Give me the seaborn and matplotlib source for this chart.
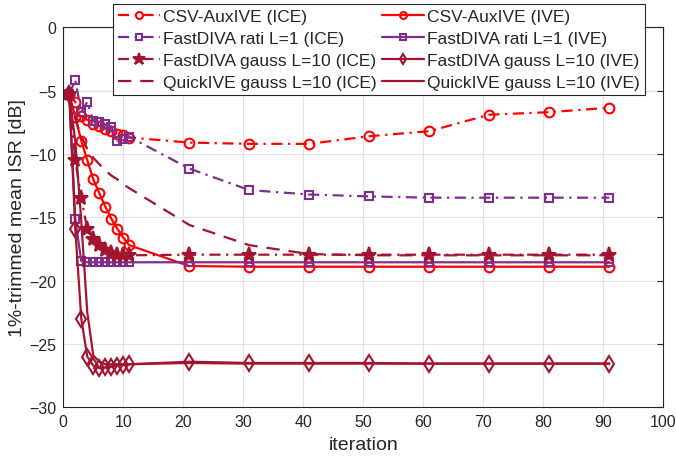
import numpy as np
import seaborn as sns
import matplotlib.pyplot as plt

sns.set_style('white')
plt.rcParams['font.family'] = ['Liberation Sans', 'DejaVu Sans']

# iterations at which the values were recorded
it = [1, 2, 3, 4, 5, 6, 7, 8, 9, 10, 11, 21, 31, 41, 51, 61, 71, 81, 91]

csv_ice = [-5.3, -5.9, -7.0, -7.3, -7.6, -7.8, -8.0, -8.2, -8.4, -8.5, -8.7,
           -9.1, -9.2, -9.2, -8.6, -8.2, -6.9, -6.7, -6.35]
csv_ive = [-5.3, -7.1, -8.95, -10.5, -12.0, -13.1, -14.15, -15.1, -15.9, -16.6, -17.2,
           -18.85, -18.9, -18.9, -18.9, -18.9, -18.9, -18.9, -18.9]
rati_ice = [-5.3, -4.15, -6.7, -5.9, -7.4, -7.5, -7.6, -7.85, -8.95, -8.8, -8.65,
            -11.15, -12.85, -13.2, -13.35, -13.45, -13.45, -13.45, -13.45]
rati_ive = [-5.3, -15.15, -18.45, -18.55, -18.55, -18.55, -18.55, -18.55, -18.55, -18.55, -18.55,
            -18.55, -18.55, -18.55, -18.55, -18.55, -18.55, -18.55, -18.55]
gauss_ice = [-5.3, -10.5, -13.5, -15.9, -16.7, -17.2, -17.6, -17.8, -17.95, -18.0, -18.0,
             -17.95, -17.95, -17.95, -17.95, -17.95, -17.95, -17.95, -17.95]
gauss_ive = [-5.3, -15.9, -23.0, -26.0, -26.7, -26.9, -26.85, -26.8, -26.7, -26.65, -26.6,
             -26.4, -26.5, -26.5, -26.5, -26.55, -26.55, -26.55, -26.55]
quick_ice = [-5.3, -7.2, -8.6, -9.6, -10.3, -10.8, -11.3, -11.7, -12.0, -12.4, -12.7,
             -15.6, -17.2, -17.9, -18.0, -18.0, -18.0, -18.0, -18.0]
quick_ive = [-5.3, -9.0, -15.3, -22.5, -25.9, -26.4, -26.6, -26.6, -26.6, -26.6, -26.6,
             -26.5, -26.55, -26.55, -26.55, -26.55, -26.55, -26.55, -26.55]

red = '#FF0000'
purple = '#7E2F8E'
dred = '#A2142F'
dashdot = (0, (5, 2.5, 1, 2.5))
dashed = (0, (6, 4))

fig = plt.figure(figsize=(6.76, 4.64), dpi=100)
ax = fig.add_axes([0.0936, 0.12, 0.8876, 0.819])

series = [
    (csv_ice, 'CSV-AuxIVE (ICE)', red, dashdot, 'o'),
    (csv_ive, 'CSV-AuxIVE (IVE)', red, '-', 'o'),
    (rati_ice, 'FastDIVA rati L=1 (ICE)', purple, dashdot, 's'),
    (rati_ive, 'FastDIVA rati L=1 (IVE)', purple, '-', 's'),
    (gauss_ice, 'FastDIVA gauss L=10 (ICE)', dred, dashdot, '*'),
    (gauss_ive, 'FastDIVA gauss L=10 (IVE)', dred, '-', 'd'),
    (quick_ice, 'QuickIVE gauss L=10 (ICE)', dred, dashed, None),
    (quick_ive, 'QuickIVE gauss L=10 (IVE)', dred, '-', None),
]
msize = {'o': 7, 's': 6, '*': 11, 'd': 8}

for vals, lab, col, ls, mk in series:
    if mk:
        kw = dict(marker=mk, markersize=msize[mk],
                  markeredgewidth=1.5, markeredgecolor=col,
                  markerfacecolor=col if mk == '*' else 'none')
    else:
        kw = {}
    sns.lineplot(x=it, y=vals, ax=ax, color=col, linestyle=ls, linewidth=1.6,
                 label=lab, **kw)

ax.set_xlim(0, 100)
ax.set_ylim(-30, 0)
ax.set_xticks(np.arange(0, 101, 10))
ax.set_yticks(np.arange(-30, 1, 5))
ax.grid(True, color='#e3e3e3', linewidth=0.8)
ax.tick_params(direction='in', length=4, labelsize=11.5, top=True, right=True,
               color='#262626', labelcolor='#262626', pad=5)
for s in ax.spines.values():
    s.set_color('#262626')
    s.set_linewidth(0.8)
ax.set_xlabel('iteration', fontsize=14, color='#262626', labelpad=5)
ax.set_ylabel('1%-trimmed mean ISR [dB]', fontsize=14, color='#262626', labelpad=2)

h, l = ax.get_legend_handles_labels()
order = [0, 2, 4, 6, 1, 3, 5, 7]
leg = fig.legend([h[i] for i in order], [l[i] for i in order], ncol=2,
                 loc='upper left', bbox_to_anchor=(0.167, 0.989), borderaxespad=0,
                 fontsize=12.5, numpoints=1, handlelength=2.4, handletextpad=0.2,
                 columnspacing=0.3, labelspacing=0.38, borderpad=0.3,
                 frameon=True, fancybox=False, edgecolor='#262626', framealpha=1)
leg.get_frame().set_linewidth(0.8)
for lh in leg.legend_handles:
    m = lh.get_marker()
    if m not in (None, 'None', ''):
        lh.set_markersize(9 if m == '*' else 5)
ax.get_legend().remove()

fig.savefig('out.png', dpi=100)
